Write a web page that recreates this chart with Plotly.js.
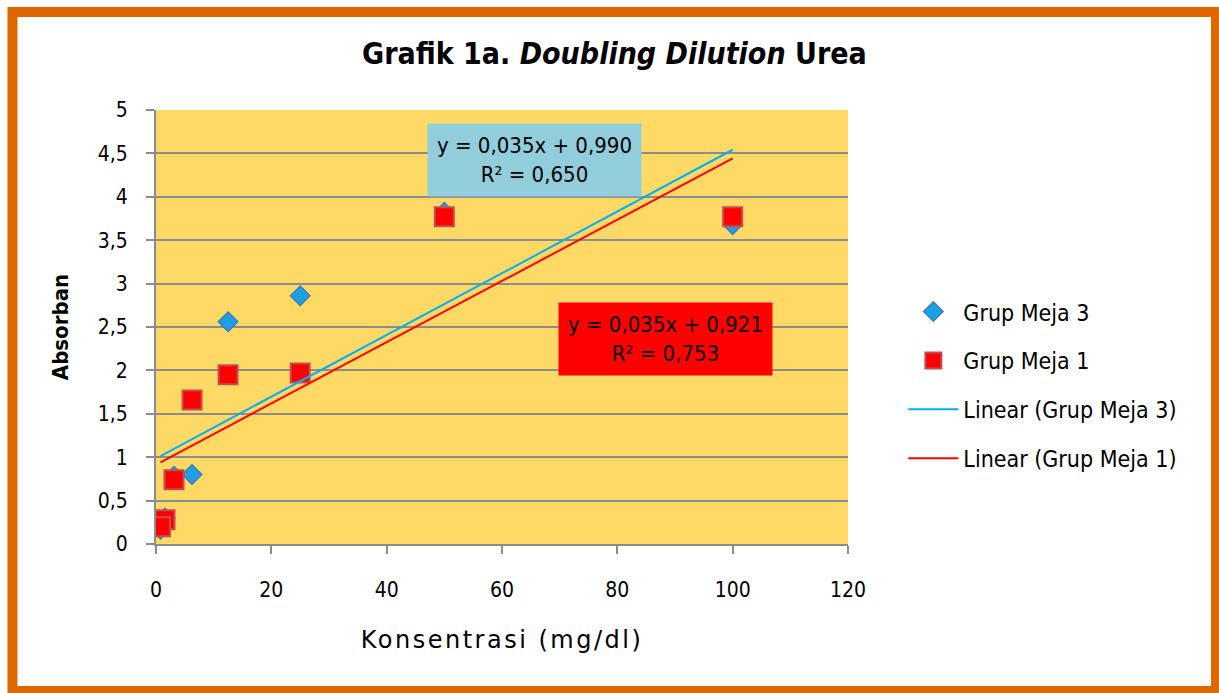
<!DOCTYPE html>
<html>
<head>
<meta charset="utf-8">
<script src="https://cdn.plot.ly/plotly-3.0.1.min.js"></script>
<style>
html,body{margin:0;padding:0;background:#fff;}
#chart{width:1219px;height:693px;}
#chart .xtitle{letter-spacing:2.5px;}
</style>
</head>
<body>
<div id="chart"></div>
<script>
// Data
const konsentrasi = [100, 50, 25, 12.5, 6.25, 3.125, 1.5625, 0.78125];
const grupMeja3 = [3.68, 3.82, 2.86, 2.56, 0.80, 0.78, 0.30, 0.17];
const grupMeja1 = [3.77, 3.77, 1.97, 1.95, 1.66, 0.74, 0.28, 0.20];
const seriesNames = ["Grup Meja 3", "Grup Meja 1", "Linear (Grup Meja 3)", "Linear (Grup Meja 1)"];
const eqMeja3 = "y = 0,035x + 0,990<br>R² = 0,650";
const eqMeja1 = "y = 0,035x + 0,921<br>R² = 0,753";
const xTicks = [0, 20, 40, 60, 80, 100, 120];
const yTicks = [0, 0.5, 1, 1.5, 2, 2.5, 3, 3.5, 4, 4.5, 5];

function fit(xs, ys) {
  const n = xs.length;
  const mx = xs.reduce((a, b) => a + b, 0) / n;
  const my = ys.reduce((a, b) => a + b, 0) / n;
  let sxy = 0, sxx = 0;
  for (let i = 0; i < n; i++) { sxy += (xs[i] - mx) * (ys[i] - my); sxx += (xs[i] - mx) ** 2; }
  const m = sxy / sxx, b = my - m * mx;
  const x0 = Math.min(...xs), x1 = Math.max(...xs);
  return { x: [x0, x1], y: [m * x0 + b, m * x1 + b] };
}
const f3 = fit(konsentrasi, grupMeja3);
const f1 = fit(konsentrasi, grupMeja1);

const narrow = '"DejaVu Sans Condensed", "Liberation Sans Narrow", "Liberation Sans", sans-serif';

const traces = [
  { x: konsentrasi, y: grupMeja3, mode: 'markers', type: 'scatter', name: seriesNames[0], legendgroup: 'a',
    marker: { symbol: 'diamond', size: 15, color: '#1DA1E6', line: { color: '#3F7CBF', width: 1.5 } } },
  { x: konsentrasi, y: grupMeja1, mode: 'markers', type: 'scatter', name: seriesNames[1], legendgroup: 'b',
    marker: { symbol: 'square', size: 19, color: '#FF0000', line: { color: '#C0504D', width: 2 } } },
  { x: f3.x, y: f3.y, mode: 'lines', type: 'scatter', name: seriesNames[2], legendgroup: 'c',
    line: { color: '#00B0F0', width: 2 } },
  { x: f1.x, y: f1.y, mode: 'lines', type: 'scatter', name: seriesNames[3], legendgroup: 'd',
    line: { color: '#FF0000', width: 2 } }
];

const layout = {
  width: 1219, height: 693,
  margin: { l: 156, r: 371, t: 110, b: 149 },
  paper_bgcolor: '#FFFFFF',
  plot_bgcolor: '#FFD966',
  separators: ',.',
  font: { family: narrow, size: 20, color: '#000' },
  title: {
    text: '<b>Grafik 1a. <i>Doubling Dilution</i> Urea</b>',
    font: { family: narrow, size: 30, color: '#000' },
    xref: 'container', yref: 'container', x: 0.504, y: 0.923, xanchor: 'center', yanchor: 'middle'
  },
  xaxis: {
    range: [0, 120], tickvals: xTicks, showgrid: false, zeroline: false,
    showline: true, linecolor: '#8C8C8C', linewidth: 2,
    ticks: 'outside', ticklen: 8, tickcolor: '#8C8C8C', tickwidth: 2,
    ticklabelstandoff: 18,
    tickfont: { family: narrow, size: 21 },
    title: { text: 'Konsentrasi (mg/dl)', font: { family: '"DejaVu Sans", Verdana, sans-serif', size: 24 }, standoff: 30 }
  },
  yaxis: {
    range: [0, 5], tickvals: yTicks, showgrid: true, gridcolor: '#8C8C8C', gridwidth: 2, zeroline: false,
    showline: true, linecolor: '#8C8C8C', linewidth: 2,
    ticks: 'outside', ticklen: 8, tickcolor: '#8C8C8C', tickwidth: 2,
    ticklabelstandoff: 14,
    tickfont: { family: narrow, size: 21 },
    title: { text: '<b>Absorban</b>', font: { family: narrow, size: 22 }, standoff: 23 }
  },
  showlegend: true,
  legend: {
    x: 1.08, y: 0.585, xanchor: 'left', yanchor: 'top',
    bgcolor: 'rgba(0,0,0,0)', traceorder: 'grouped', tracegroupgap: 16,
    font: { family: narrow, size: 23, color: '#000' }, itemwidth: 50
  },
  shapes: [
    { type: 'rect', xref: 'paper', yref: 'paper', x0: -0.2074, x1: 1.5318, y0: -0.3387, y1: 1.2258,
      line: { color: '#E06700', width: 10 }, fillcolor: 'rgba(0,0,0,0)', layer: 'below' }
  ],
  annotations: [
    { x: 65.7, y: 4.42, xref: 'x', yref: 'y', text: eqMeja3, showarrow: false,
      bgcolor: '#92CDDC', borderpad: 9, font: { family: narrow, size: 22, color: '#000' }, align: 'center' },
    { x: 88.3, y: 2.36, xref: 'x', yref: 'y', text: eqMeja1, showarrow: false,
      bgcolor: '#FF0000', borderpad: 9, font: { family: narrow, size: 22, color: '#000' }, align: 'center' }
  ]
};

Plotly.newPlot('chart', traces, layout, { displayModeBar: false, staticPlot: true });
</script>
</body>
</html>
